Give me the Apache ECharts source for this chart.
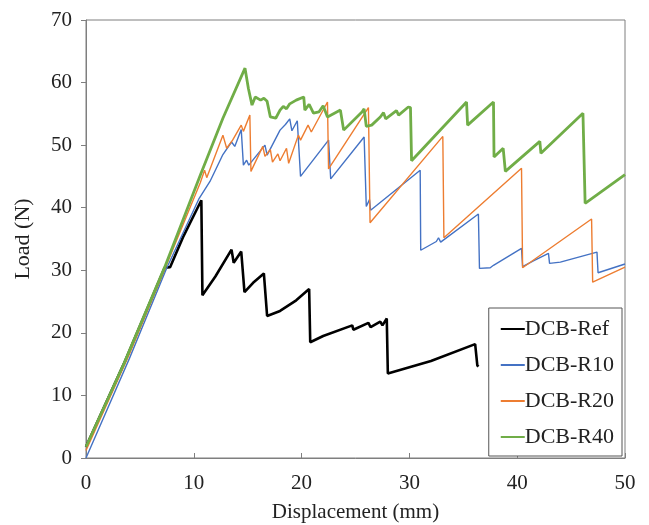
<!DOCTYPE html>
<html>
<head>
<meta charset="utf-8">
<script src="https://cdn.jsdelivr.net/npm/echarts@6/dist/echarts.min.js"></script>
<style>
  html, body { margin: 0; padding: 0; background: #fff; }
  #chart { width: 649px; height: 525px; }
</style>
</head>
<body>
<div id="chart"></div>
<script>
// Load–displacement curves of the DCB specimens, [displacement (mm), load (N)]
const dcbRef = [
  [0, 1.8], [3.5, 15], [7.3, 30.4], [7.8, 30.5], [9, 35.3], [10.7, 41.2], [10.8, 26],
  [12, 29], [13.5, 33.3], [13.7, 31.2], [14.4, 33], [14.7, 26.5], [15.5, 28],
  [16.5, 29.5], [16.8, 22.7], [18, 23.5], [19.5, 25.2], [20.7, 27], [20.8, 18.5],
  [22, 19.5], [24.7, 21.2], [24.8, 20.5], [26.2, 21.6], [26.4, 20.9], [27.3, 21.8],
  [27.5, 21.2], [27.9, 22.3], [28.0, 13.5], [32, 15.5], [36.1, 18.2], [36.3, 14.8],
  [36.4, 14.6]
];
const dcbR10 = [
  [0, 0], [4, 15.8], [7.5, 30.4], [10.5, 41.5], [11.5, 44.2], [12.7, 48.5],
  [13.5, 50.5], [13.8, 49.8], [14.4, 52.5], [14.6, 46.8], [14.9, 47.6], [15.1, 46.8],
  [16.6, 50], [16.8, 48.4], [18.0, 52.4], [18.5, 53.3], [18.9, 54.2], [19.1, 52.3],
  [19.6, 53.9], [19.9, 45], [22.5, 50.8], [22.7, 44.6], [25.8, 51.3], [26.0, 40.2],
  [26.3, 41.3], [26.4, 39.6], [31.0, 46], [31.05, 33.2], [32.5, 34.6], [32.7, 35.2],
  [32.9, 34.5], [36.4, 39], [36.5, 30.3], [37.5, 30.4], [37.8, 30.8], [40.4, 33.5],
  [40.5, 30.6], [41.5, 31.5], [42.9, 32.7], [43.0, 31.1], [44, 31.3], [47.4, 32.9],
  [47.5, 29.6], [50, 31]
];
const dcbR20 = [
  [0, 1.2], [4, 16.5], [7.5, 31], [10.6, 44], [11.0, 46], [11.2, 44.8],
  [12.7, 51.6], [13.05, 49.5], [13.6, 50.8], [14.4, 53.2], [14.6, 52.2], [15.2, 54.8],
  [15.3, 45.8], [16.4, 49.8], [16.6, 48.2], [17.1, 49.3], [17.3, 47.3], [17.8, 48.6],
  [18.0, 47.5], [18.6, 49.5], [18.8, 47.1], [19.7, 51.6], [19.9, 50.8], [20.6, 53.2],
  [20.9, 52.1], [22.4, 56.9], [22.5, 46.2], [26.2, 56], [26.35, 37.6], [33.1, 51.4],
  [33.2, 35.2], [40.4, 46.3], [40.5, 30.4], [46.9, 38.2], [47.0, 28.1], [50, 30.5]
];
const dcbR40 = [
  [0, 1.8], [3.5, 15], [7.3, 30.5], [10.6, 45.2], [12.7, 54.3], [14.75, 62.3],
  [15.06, 59.1], [15.4, 56.4], [15.7, 57.7], [16.2, 57.2], [16.5, 57.5], [16.8, 57],
  [17.1, 54.5], [17.6, 54.3], [18.0, 55.6], [18.3, 56.2], [18.6, 55.8], [18.9, 56.6],
  [19.5, 57.2], [20.2, 57.7], [20.3, 55.6], [20.7, 56.5], [21.1, 55.1], [21.6, 55.3],
  [22.0, 56.3], [22.4, 54.5], [23.6, 55.6], [23.9, 52.4], [25.6, 55.3], [25.8, 55.8],
  [26.0, 53], [26.5, 53.2], [27.3, 54.5], [27.6, 55.2], [27.8, 54.2], [28.8, 55.5],
  [29.0, 54.8], [29.9, 56.1], [30.1, 56.0], [30.2, 47.5], [35.3, 56.9], [35.4, 53.2],
  [37.8, 56.9], [37.85, 48.1], [38.7, 49.5], [38.9, 45.8], [42.1, 50.6], [42.2, 48.7],
  [46.1, 55.1], [46.3, 40.7], [50, 45.3]
];

const seriesNames = ['DCB-Ref', 'DCB-R10', 'DCB-R20', 'DCB-R40'];
const seriesData = [dcbRef, dcbR10, dcbR20, dcbR40];
const seriesColors = ['#000000', '#4472C4', '#ED7D31', '#70AD47'];
const seriesWidths = [2.6, 1.4, 1.4, 2.8];

const xTicks = { min: 0, max: 50, interval: 10 };
const yTicks = { min: 0, max: 70, interval: 10 };

const serif = '"Liberation Serif", "DejaVu Serif", serif';
const axisGray = '#7f7f7f';
const textColor = '#222';

const chart = echarts.init(document.getElementById('chart'), null, { renderer: 'canvas' });
chart.setOption({
  animation: false,
  backgroundColor: '#ffffff',
  grid: {
    left: 86, right: 24, top: 20, bottom: 67,
    containLabel: false, outerBoundsMode: 'none',
    show: true, borderColor: axisGray, borderWidth: 1, backgroundColor: 'transparent'
  },
  xAxis: {
    type: 'value', min: xTicks.min, max: xTicks.max, interval: xTicks.interval,
    name: 'Displacement (mm)', nameLocation: 'middle', nameGap: 44,
    nameTextStyle: { fontFamily: serif, fontSize: 21, color: textColor },
    axisLine: { lineStyle: { color: axisGray, width: 1 } },
    axisTick: { inside: true, length: 5, lineStyle: { color: axisGray } },
    axisLabel: { fontFamily: serif, fontSize: 21, color: textColor, margin: 15 },
    splitLine: { show: false }
  },
  yAxis: {
    type: 'value', min: yTicks.min, max: yTicks.max, interval: yTicks.interval,
    name: 'Load (N)', nameLocation: 'middle', nameGap: 52,
    nameTextStyle: { fontFamily: serif, fontSize: 22, color: textColor },
    axisLine: { show: true, lineStyle: { color: axisGray, width: 1 } },
    axisTick: { show: true, length: 5, lineStyle: { color: axisGray } },
    axisLabel: { fontFamily: serif, fontSize: 21, color: textColor, margin: 14 },
    splitLine: { show: false }
  },
  legend: {
    orient: 'vertical', right: 27, top: 308,
    backgroundColor: '#ffffff', borderColor: '#555', borderWidth: 1,
    padding: [10, 8, 8, 12], itemGap: 14,
    itemWidth: 24, itemHeight: 2,
    icon: 'path://M0,0 L24,0 L24,2 L0,2 Z',
    textStyle: { fontFamily: serif, fontSize: 22, color: textColor, padding: [0, 0, 0, -5] },
    data: seriesNames
  },
  series: seriesNames.map((name, i) => ({
    name, type: 'line', data: seriesData[i],
    showSymbol: false, symbol: 'none', smooth: false,
    lineStyle: { color: seriesColors[i], width: seriesWidths[i] },
    itemStyle: { color: seriesColors[i] },
    z: 2 + i
  }))
});
</script>
</body>
</html>
